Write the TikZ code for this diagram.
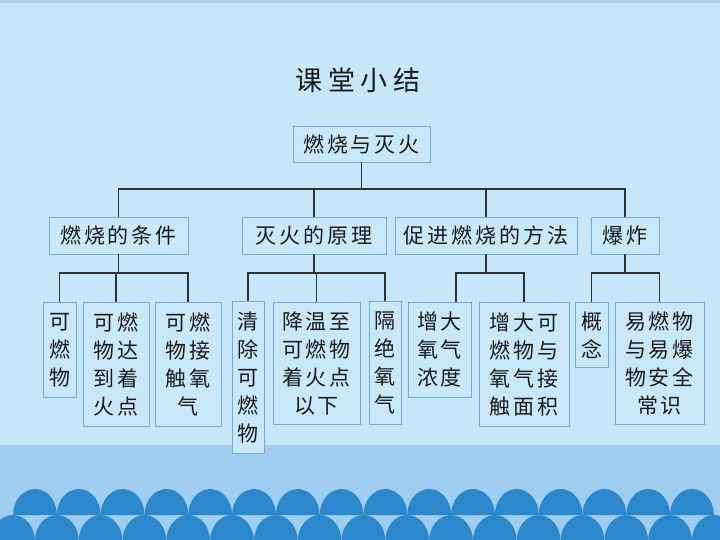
\documentclass[tikz,border=0pt]{standalone}
\usepackage{fontspec}
\newfontfamily\cjk[LetterSpace=14]{Noto Sans CJK SC}
\newfontfamily\cjktitle[LetterSpace=20]{Noto Sans CJK SC}
\definecolor{bgtop}{HTML}{C6E7FA}
\definecolor{bgstrip}{HTML}{AACFE6}
\definecolor{band}{HTML}{9ECDF0}
\definecolor{arch}{HTML}{2B88CD}
\definecolor{boxline}{HTML}{74A9D8}
\definecolor{boxfill}{HTML}{C8E8FA}
\definecolor{inkdark}{HTML}{1A1A1A}
\definecolor{linkdark}{HTML}{2E3236}

\begin{document}
\begin{tikzpicture}[x=1pt, y=-1pt,
    every node/.style={align=center, text=inkdark},
    topic/.style={draw=boxline, fill=boxfill, line width=0.8pt, inner sep=0pt,
        font=\cjk\fontsize{21}{28}\selectfont},
    leaf/.style={topic, anchor=north},
    link/.style={draw=linkdark, line width=1.1pt}]
        \useasboundingbox (0,0) rectangle (720,540);

        % Background
        \fill[bgtop] (0,0) rectangle (720,540);
        \fill[bgstrip] (0,0) rectangle (720,3);
        \fill[band] (0,445) rectangle (720,540);
        \foreach \i in {0,...,15}{
            \pgfmathsetmacro\cx{35+43.8*\i}
            \fill[arch] (\cx-21.9,515) .. controls (\cx-21.9,500.6) and (\cx-12.1,489) .. (\cx,489)
                .. controls (\cx+12.1,489) and (\cx+21.9,500.6) .. (\cx+21.9,515) -- cycle;
        }
        \foreach \i in {0,...,16}{
            \pgfmathsetmacro\cx{13+43.8*\i}
            \fill[arch] (\cx-21.9,541) .. controls (\cx-21.9,526.6) and (\cx-12.1,515) .. (\cx,515)
                .. controls (\cx+12.1,515) and (\cx+21.9,526.6) .. (\cx+21.9,541) -- cycle;
        }

        % Title
        \node[font=\cjktitle\fontsize{27}{30}\selectfont] (title) at (358,80) {课堂小结};

        % Root and branches
        \node[topic, minimum width=137pt, minimum height=36pt] (root) at (361.5,144) {燃烧与灭火};
        \node[topic, minimum width=139pt, minimum height=37pt] (cond) at (118.5,235.5) {燃烧的条件};
        \node[topic, minimum width=144pt, minimum height=37pt] (put) at (314,235.5) {灭火的原理};
        \node[topic, minimum width=182pt, minimum height=37pt] (boost) at (486,235.5) {促进燃烧的方法};
        \node[topic, minimum width=68pt, minimum height=37pt] (blast) at (625,235.5) {爆炸};

        % Leaves
        \node[leaf, minimum width=33pt, minimum height=95pt] (cond1) at (59.5,302) {可\\燃\\物};
        \node[leaf, minimum width=66pt, minimum height=124pt] (cond2) at (116,302) {可燃\\物达\\到着\\火点};
        \node[leaf, minimum width=66pt, minimum height=124pt] (cond3) at (188,302) {可燃\\物接\\触氧\\气};
        \node[leaf, minimum width=32pt, minimum height=152pt] (put1) at (248,301) {清\\除\\可\\燃\\物};
        \node[leaf, minimum width=87pt, minimum height=122pt] (put2) at (316.5,302) {降温至\\可燃物\\着火点\\以下};
        \node[leaf, minimum width=32pt, minimum height=123pt] (put3) at (385,301) {隔\\绝\\氧\\气};
        \node[leaf, minimum width=63pt, minimum height=95pt] (boost1) at (439.5,302) {增大\\氧气\\浓度};
        \node[leaf, minimum width=90pt, minimum height=124pt] (boost2) at (524,302) {增大可\\燃物与\\氧气接\\触面积};
        \node[leaf, minimum width=33pt, minimum height=65pt] (blast1) at (591.5,302) {概\\念};
        \node[leaf, minimum width=89pt, minimum height=122pt] (blast2) at (659.5,302) {易燃物\\与易爆\\物安全\\常识};

        % Connectors
        \coordinate (bus1) at (0,189);
        \coordinate (bus2) at (0,273);
        \draw[link] (root.south) -- (root.south |- bus1);
        \draw[link] (cond.north) |- (bus1 -| blast.north) -- (blast.north);
        \draw[link] (put.north) -- (put.north |- bus1);
        \draw[link] (boost.north) -- (boost.north |- bus1);

        \draw[link] (cond.south) -- (cond.south |- bus2);
        \draw[link] (cond1.north) |- (bus2 -| cond3.north) -- (cond3.north);
        \draw[link] (cond2.north) -- (cond2.north |- bus2);

        \draw[link] (put.south) -- (put.south |- bus2);
        \draw[link] (put1.north) |- (bus2 -| put3.north) -- (put3.north);
        \draw[link] (put2.north) -- (put2.north |- bus2);

        \draw[link] (boost.south) -- (boost.south |- bus2);
        \draw[link] ([xshift=16.5pt]boost1.north) |- (bus2 -| boost2.north) -- (boost2.north);

        \draw[link] (blast.south) -- (blast.south |- bus2);
        \draw[link] (blast1.north) |- (bus2 -| blast2.north) -- (blast2.north);

    \end{tikzpicture}
\end{document}
